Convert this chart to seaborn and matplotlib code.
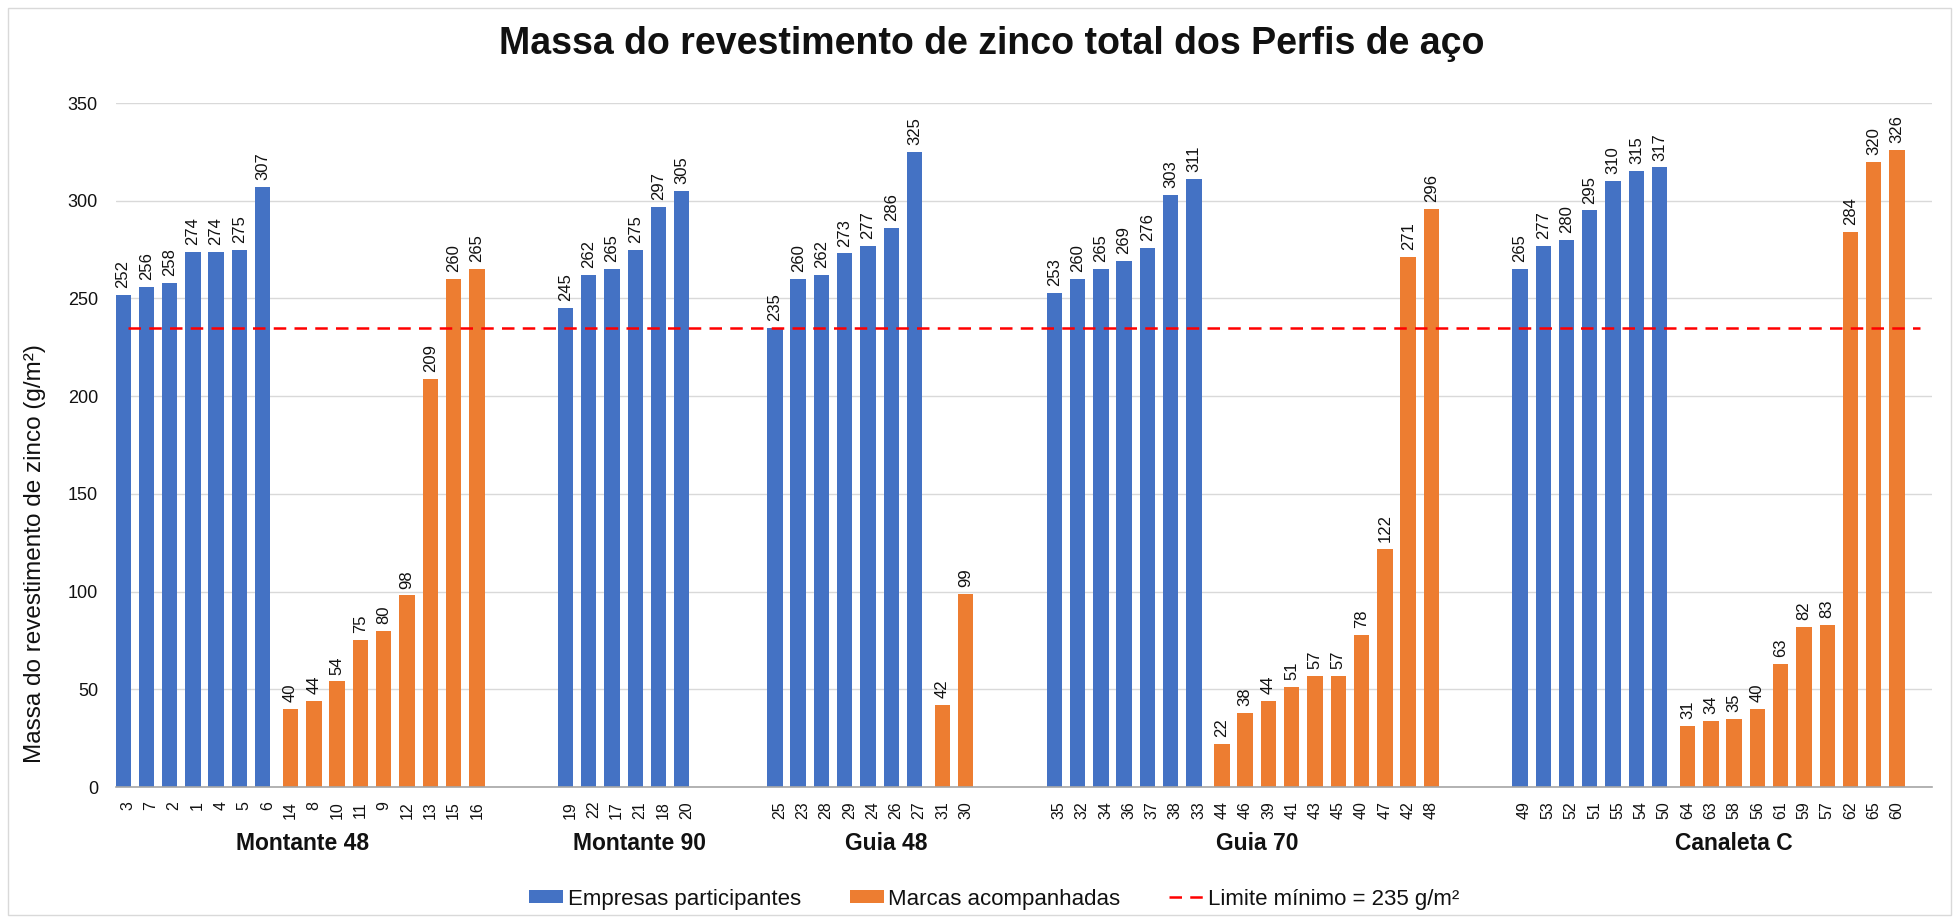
import pandas as pd
import numpy as np
import matplotlib.pyplot as plt
import seaborn as sns
from matplotlib.patches import Patch, Rectangle
from matplotlib.lines import Line2D

# =========================
# DATA
# =========================

grupos = ['Montante 48', 'Montante 90', 'Guia 48', 'Guia 70', 'Canaleta C']

empresas_ids = [
    [3, 7, 2, 1, 4, 5, 6],
    [19, 22, 17, 21, 18, 20],
    [25, 23, 28, 29, 24, 26, 27],
    [35, 32, 34, 36, 37, 38, 33],
    [49, 53, 52, 51, 55, 54, 50],
]
empresas_vals = [
    [252, 256, 258, 274, 274, 275, 307],
    [245, 262, 265, 275, 297, 305],
    [235, 260, 262, 273, 277, 286, 325],
    [253, 260, 265, 269, 276, 303, 311],
    [265, 277, 280, 295, 310, 315, 317],
]

marcas_ids = [
    [14, 8, 10, 11, 9, 12, 13, 15, 16],
    [],
    [31, 30],
    [44, 46, 39, 41, 43, 45, 40, 47, 42, 48],
    [64, 63, 58, 56, 61, 59, 57, 62, 65, 60],
]
marcas_vals = [
    [40, 44, 54, 75, 80, 98, 209, 260, 265],
    [],
    [42, 99],
    [22, 38, 44, 51, 57, 57, 78, 122, 271, 296],
    [31, 34, 35, 40, 63, 82, 83, 284, 320, 326],
]

limite = 235

SERIE_EMP = 'Empresas participantes'
SERIE_MAR = 'Marcas acompanhadas'
LIMITE_LABEL = 'Limite mínimo = 235 g/m²'

# =========================
# STYLE
# =========================

BLUE = '#4472C4'
ORANGE = '#ED7D31'
TXT = '#111111'
GAP = 3            # empty categories between groups
BLUE_SHIFT = -0.2  # blue bars sit a little left of the category centre
LABEL_NUDGE = [0.0, 0.5, 0.6, 0.5, 1.0]

sns.set_theme(style='white')
plt.rcParams['font.family'] = ['Liberation Sans', 'DejaVu Sans']

# =========================
# BUILD TABLE
# =========================

rows = []
centers = []
pos = 0
for g, nome in enumerate(grupos):
    start = pos
    for i, v in zip(empresas_ids[g], empresas_vals[g]):
        rows.append({'slot': pos, 'pos': pos + BLUE_SHIFT, 'amostra': str(i),
                     'valor': v, 'serie': SERIE_EMP})
        pos += 1
    for i, v in zip(marcas_ids[g], marcas_vals[g]):
        rows.append({'slot': pos, 'pos': float(pos), 'amostra': str(i),
                     'valor': v, 'serie': SERIE_MAR})
        pos += 1
    centers.append((start + pos - 1) / 2 + LABEL_NUDGE[g])
    pos += GAP

df = pd.DataFrame(rows)
n_slots = df['slot'].max() + 2  # one trailing empty category

# =========================
# PLOT
# =========================

W, H = 1959, 919
fig = plt.figure(figsize=(W / 100, H / 100), dpi=100)
ax = fig.add_axes([116 / W, 1 - 787 / H, (1932 - 116) / W, (787 - 103) / H])

sns.barplot(
    data=df, x='pos', y='valor', hue='serie',
    hue_order=[SERIE_EMP, SERIE_MAR], palette=[BLUE, ORANGE],
    native_scale=True, dodge=False, width=0.66, saturation=1,
    linewidth=0, legend=False, ax=ax,
)

for cont in ax.containers:
    ax.bar_label(cont, fmt='%g', rotation=90, padding=5, fontsize=12, color=TXT)

sns.lineplot(x=[0, n_slots - 1], y=[limite, limite], color='#FF0000',
             lw=1.8, linestyle=(0, (5, 3.3)), ax=ax)

ax.set_xlim(-0.5, n_slots - 0.5)
ax.set_ylim(0, 350)
ax.set_yticks(np.arange(0, 351, 50))
ax.set_xticks(df['slot'])
ax.set_xticklabels(df['amostra'], rotation=90)
ax.tick_params(axis='x', length=0, pad=10, labelsize=11.5, colors=TXT)
ax.tick_params(axis='y', length=0, pad=13, labelsize=13, colors=TXT)
ax.set_xlabel('')
ax.set_ylabel('')

ax.set_axisbelow(True)
ax.yaxis.grid(True, color='#D9D9D9', lw=1)
ax.xaxis.grid(False)
for side in ['top', 'right', 'left']:
    ax.spines[side].set_visible(False)
ax.spines['bottom'].set_color('#A6A6A6')
ax.spines['bottom'].set_linewidth(1.2)

for nome, cx in zip(grupos, centers):
    ax.text(cx, -0.082, nome, transform=ax.get_xaxis_transform(),
            ha='center', va='center', fontsize=16.5, fontweight='bold', color=TXT)

fig.text(992 / W, 1 - 44 / H, 'Massa do revestimento de zinco total dos Perfis de aço',
         ha='center', va='center', fontsize=27, fontweight='bold', color=TXT)

fig.text(35 / W, 1 - 554 / H, 'Massa do revestimento de zinco (g/m²)',
         rotation=90, ha='center', va='center', fontsize=17.5, color=TXT)

handles = [
    Patch(facecolor=BLUE, edgecolor='none', label=SERIE_EMP),
    Patch(facecolor=ORANGE, edgecolor='none', label=SERIE_MAR),
    Line2D([], [], color='#FF0000', lw=1.8, linestyle=(0, (5, 3.3)), label=LIMITE_LABEL),
]
fig.legend(handles=handles, loc='center', bbox_to_anchor=(994 / W, 1 - 899 / H),
           ncol=3, frameon=False, fontsize=16, handlelength=1.53,
           handleheight=0.5, handletextpad=0.2, columnspacing=2.2,
           labelcolor=TXT)

fig.patches.append(Rectangle((8 / W, 4 / H), (1951 - 8) / W, (911 - 4) / H,
                             transform=fig.transFigure, fill=False,
                             edgecolor='#D9D9D9', lw=1))

fig.savefig('out.png', dpi=100)
